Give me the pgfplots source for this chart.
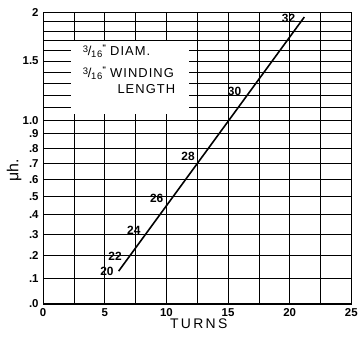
\documentclass[border=0pt]{standalone}
\usepackage{pgfplots}
\pgfplotsset{compat=1.18}
\usepackage{fontspec}
\setmainfont{Liberation Sans}
\newfontfamily\spaced[LetterSpace=8]{Liberation Sans}
\newcommand{\frc}{\raisebox{3pt}{\fontsize{9.5}{10}\selectfont 3}\kern-0.3pt/\kern-0.3pt\raisebox{-1.5pt}{\fontsize{9.5}{10}\selectfont 16}\raisebox{5pt}{\fontsize{8}{9}\selectfont\bfseries"}}
\begin{document}
\begin{tikzpicture}
\begin{axis}[
  scale only axis,
  width=310pt, height=293pt,
  xmin=0, xmax=25, ymin=0, ymax=2,
  y coord trafo/.code={\pgfmathparse{ln(1+#1)}},
  y coord inv trafo/.code={\pgfmathparse{exp(#1)-1}},
  xtick={0,5,10,15,20,25},
  minor xtick={2.5,7.5,12.5,17.5,22.5},
  ytick={0,0.1,0.2,0.3,0.4,0.5,0.6,0.7,0.8,0.9,1.0,1.5,2},
  yticklabels={.0,.1,.2,.3,.4,.5,.6,.7,.8,.9,1.0,1.5,2},
  minor ytick={1.1,1.2,1.3,1.4,1.6,1.7,1.8,1.9},
  xticklabels={0,5,10,15,20,25},
  major tick length=0pt, minor tick length=0pt,
  grid=both,
  major grid style={black, line width=0.6pt},
  minor grid style={black, line width=0.5pt},
  axis line style={black, line width=1.1pt},
  tick label style={font=\fontsize{11.5}{13}\selectfont\bfseries},
  yticklabel style={xshift=-1pt},
  xticklabel style={yshift=-1pt},
  clip=false,
]
\fill[white] (rel axis cs:0.092,0.653) rectangle (rel axis cs:0.473,0.901);
\node[anchor=west, font=\fontsize{13}{15}\spaced] at (rel axis cs:0.118,0.868)
  {\frc\hspace{4pt}DIAM.};
\node[anchor=west, font=\fontsize{13}{15}\spaced] at (rel axis cs:0.118,0.792)
  {\frc\hspace{4pt}WINDING};
\node[anchor=center, font=\fontsize{13}{15}\spaced] at (rel axis cs:0.335,0.738) {LENGTH};
\addplot[black, line width=1.6pt] coordinates {(6.13,0.132) (21.19,1.951)}
  node[pos=0, anchor=east, xshift=-1pt, font=\fontsize{12}{14}\selectfont\bfseries] {20}
  node[pos=0.06, anchor=east, xshift=-4pt, font=\fontsize{12}{14}\selectfont\bfseries] {22}
  node[pos=0.161, anchor=east, xshift=-4pt, font=\fontsize{12}{14}\selectfont\bfseries] {24}
  node[pos=0.284, anchor=east, xshift=-4pt, yshift=1pt, font=\fontsize{12}{14}\selectfont\bfseries] {26}
  node[pos=0.453, anchor=east, xshift=-4pt, font=\fontsize{12}{14}\selectfont\bfseries] {28}
  node[pos=0.709, anchor=east, xshift=-5pt, font=\fontsize{12}{14}\selectfont\bfseries] {30}
  node[pos=1.0, anchor=east, xshift=-5pt, yshift=-1pt, font=\fontsize{12}{14}\selectfont\bfseries] {32};
\node[rotate=90, font=\fontsize{16}{18}\selectfont] at ([xshift=-29pt]rel axis cs:0,0.46) {μh.};
\node[font=\fontsize{14}{16}\selectfont] at ([yshift=-20pt]rel axis cs:0.505,0) {T\,U\,R\,N\,S};
\end{axis}
\path[use as bounding box] (-43.3pt,-39.3pt) rectangle (317.7pt,305.7pt);
\end{tikzpicture}
\end{document}
